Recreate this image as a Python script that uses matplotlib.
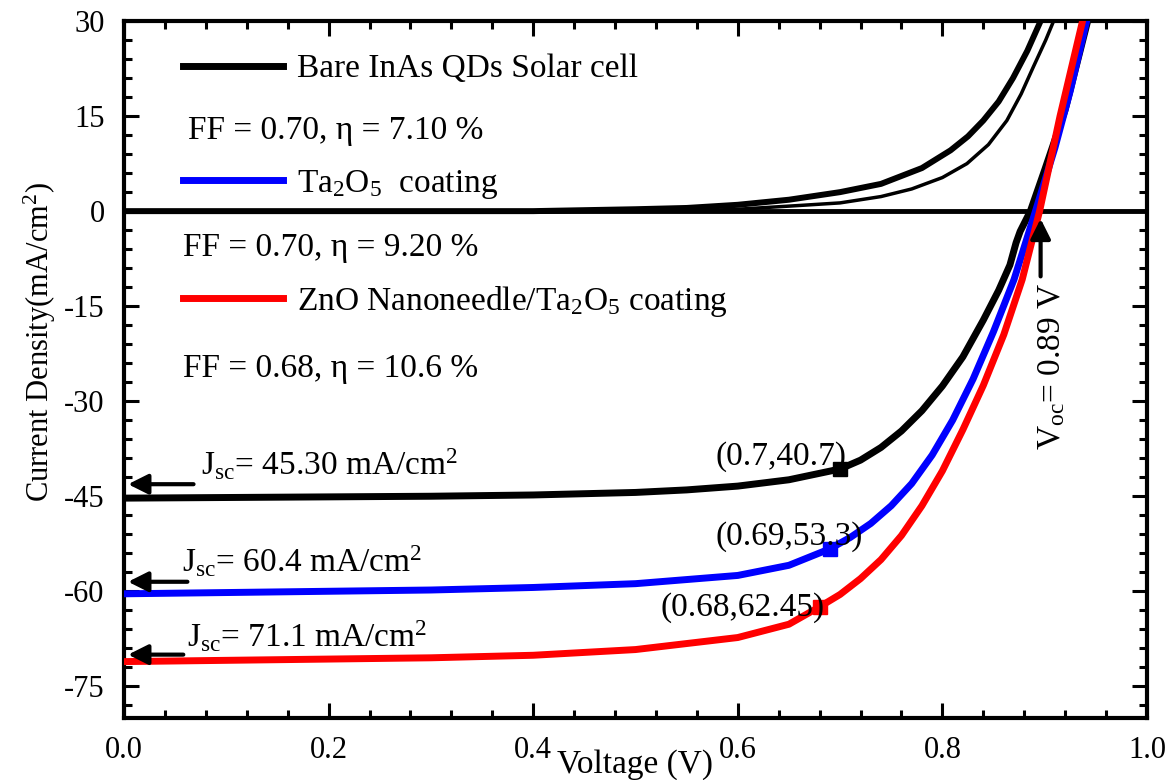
import matplotlib
matplotlib.use("Agg")
import matplotlib.pyplot as plt
from matplotlib.ticker import MultipleLocator

plt.rcParams['font.family'] = ['Liberation Serif', 'DejaVu Serif']
plt.rcParams['mathtext.fontset'] = 'custom'
plt.rcParams['mathtext.rm'] = 'Liberation Serif'
plt.rcParams['mathtext.it'] = 'Liberation Serif:italic'
plt.rcParams['axes.unicode_minus'] = False

# illuminated J-V curves (V in volts, J in mA/cm2)
v_bare = [0, 0.1, 0.2, 0.3, 0.4, 0.5, 0.55, 0.6, 0.65, 0.7, 0.72, 0.74, 0.76, 0.78,
          0.8, 0.82, 0.84, 0.855, 0.866, 0.872, 0.876, 0.881, 0.886, 0.9, 0.92, 0.942]
j_bare = [-45.3, -45.2, -45.1, -45.0, -44.8, -44.4, -44.0, -43.4, -42.4, -40.7,
          -39.3, -37.3, -34.7, -31.5, -27.6, -23.0, -17.2, -12.5, -8.5, -5.0, -3.2,
          -1.6, 0, 6.5, 16, 30]

v_ta = [0, 0.1, 0.2, 0.3, 0.4, 0.5, 0.6, 0.65, 0.69, 0.71, 0.73, 0.75, 0.77, 0.79,
        0.81, 0.83, 0.85, 0.87, 0.891, 0.91, 0.925, 0.941]
j_ta = [-60.4, -60.2, -60.0, -59.8, -59.4, -58.8, -57.5, -55.9, -53.3, -51.5,
        -49.3, -46.5, -43.0, -38.5, -33.0, -26.5, -19.0, -10.8, 0, 10, 19, 30]

v_zno = [0, 0.1, 0.2, 0.3, 0.4, 0.5, 0.6, 0.65, 0.68, 0.70, 0.72, 0.74, 0.76, 0.78,
         0.80, 0.82, 0.84, 0.86, 0.878, 0.895, 0.915, 0.937]
j_zno = [-71.1, -70.9, -70.7, -70.5, -70.1, -69.2, -67.3, -65.2, -62.45, -60.5,
         -58.0, -55.0, -51.2, -46.5, -41.0, -34.5, -27.5, -19.5, -10.8, 0, 15, 30]

# dark curves
v_dark1 = [0, 0.4, 0.5, 0.55, 0.6, 0.65, 0.7, 0.74, 0.78, 0.808, 0.825, 0.84, 0.855,
           0.869, 0.883, 0.896]
j_dark1 = [0, 0, 0.3, 0.5, 1.0, 1.8, 3.0, 4.3, 6.8, 9.6, 11.8, 14.3, 17.3, 21, 25.3, 30]
v_dark2 = [0, 0.55, 0.6, 0.661, 0.7, 0.74, 0.77, 0.8, 0.824, 0.845, 0.863, 0.877,
           0.889, 0.901, 0.91]
j_dark2 = [0, 0, 0.3, 0.9, 1.3, 2.3, 3.5, 5.3, 7.5, 10.5, 14.3, 18.5, 22.8, 27, 30.5]

# maximum power points
mpp_v = [0.70, 0.69, 0.68]
mpp_j = [-40.7, -53.3, -62.45]
mpp_txt = ['(0.7,40.7)', '(0.69,53.3)', '(0.68,62.45)']
colors = ['black', 'blue', 'red']
labels = ['Bare InAs QDs Solar cell', r'Ta$_{\mathrm{2}}$O$_{\mathrm{5}}$  coating',
          r'ZnO Nanoneedle/Ta$_{\mathrm{2}}$O$_{\mathrm{5}}$ coating']
ff_txt = ['FF = 0.70, η = 7.10 %', 'FF = 0.70, η = 9.20 %', 'FF = 0.68, η = 10.6 %']
jsc_txt = ['45.30', '60.4', '71.1']
voc = 0.89

fig = plt.figure(figsize=(11.74, 7.80), dpi=100)
ax = fig.add_axes([0.1056, 0.0795, 0.8714, 0.8935])

ax.axhline(0, color='black', lw=3.5, zorder=1)
ax.plot(v_dark1, j_dark1, color='black', lw=4.3, zorder=2, solid_joinstyle='round')
ax.plot(v_dark2, j_dark2, color='black', lw=2.5, zorder=2, solid_joinstyle='round')

handles = []
for v, j, c, lab in zip([v_bare, v_ta, v_zno], [j_bare, j_ta, j_zno], colors, labels):
    h, = ax.plot(v, j, color=c, lw=5, label=lab, zorder=3, solid_joinstyle='round')
    handles.append(h)

for x, y, c in zip(mpp_v, mpp_j, colors):
    ax.plot(x, y, 's', color=c, ms=10, zorder=4)

# max power point labels
ax.text(0.578, -38.7, mpp_txt[0], fontsize=24, va='center', ha='left', zorder=5)
ax.text(0.578, -51.3, mpp_txt[1], fontsize=24, va='center', ha='left', zorder=5)
ax.text(0.524, -62.5, mpp_txt[2], fontsize=24, va='center', ha='left', zorder=5)

# Jsc labels and arrows
jsc_pos = [(0.075, -41.7, -43.1, 0.068), (0.057, -57.0, -58.5, 0.062),
           (0.062, -68.8, -70.0, 0.058)]
arrow_style = dict(arrowstyle='-|>,head_length=0.6,head_width=0.3', color='black',
                   lw=3, mutation_scale=20, shrinkA=0, shrinkB=0)
for (tx, ty, ay, ax0), t in zip(jsc_pos, jsc_txt):
    ax.text(tx, ty, r'J$_{\mathrm{sc}}$= ' + t + r' mA/cm$^{\mathrm{2}}$', fontsize=24,
            va='baseline', ha='left')
    ax.annotate('', xy=(0.004, ay), xytext=(ax0, ay), arrowprops=arrow_style)

# Voc
ax.annotate('', xy=(0.896, -1.2), xytext=(0.896, -10.3), arrowprops=arrow_style)
ax.text(0.907, -24.6, r'V$_{\mathrm{oc}}$= %.2f V' % voc, fontsize=24, rotation=90,
        va='center', ha='center')

# FF / efficiency
ax.text(0.0626, 12.7, ff_txt[0], fontsize=24, va='center', ha='left')
ax.text(0.058, -5.8, ff_txt[1], fontsize=24, va='center', ha='left')
ax.text(0.058, -24.9, ff_txt[2], fontsize=24, va='center', ha='left')

ax.legend(handles=handles, loc='upper left', bbox_to_anchor=(0.0577, 0.953),
          frameon=False, fontsize=24, handlelength=3.0, handletextpad=0.42,
          labelspacing=2.5, borderpad=0, borderaxespad=0)

ax.set_xlim(0, 1.0)
ax.set_ylim(-80, 30)
ax.xaxis.set_major_locator(MultipleLocator(0.2))
ax.xaxis.set_minor_locator(MultipleLocator(0.04))
ax.yaxis.set_major_locator(MultipleLocator(15))
ax.yaxis.set_minor_locator(MultipleLocator(3))
ax.set_xticks([0, 0.2, 0.4, 0.6, 0.8, 1.0])
ax.set_xticklabels(['0.0', '0.2', '0.4', '0.6', '0.8', '1.0'])
ax.tick_params(which='both', direction='in', top=True, right=True, width=2.2,
               labelsize=22)
ax.tick_params(which='major', length=11)
ax.tick_params(which='minor', length=6)
ax.tick_params(axis='y', pad=14)
ax.tick_params(axis='x', pad=13)
for s in ax.spines.values():
    s.set_linewidth(3)

ax.set_xlabel('Voltage (V)', fontsize=24)
ax.xaxis.set_label_coords(0.5, -0.067)
ax.xaxis.label.set_va('center')
ax.set_ylabel(r'Current Density(mA/cm$^{\mathrm{2}}$)', fontsize=22)
ax.yaxis.set_label_coords(-0.082, 0.54)
ax.yaxis.label.set_va('center')

fig.savefig('out.png', dpi=100)
